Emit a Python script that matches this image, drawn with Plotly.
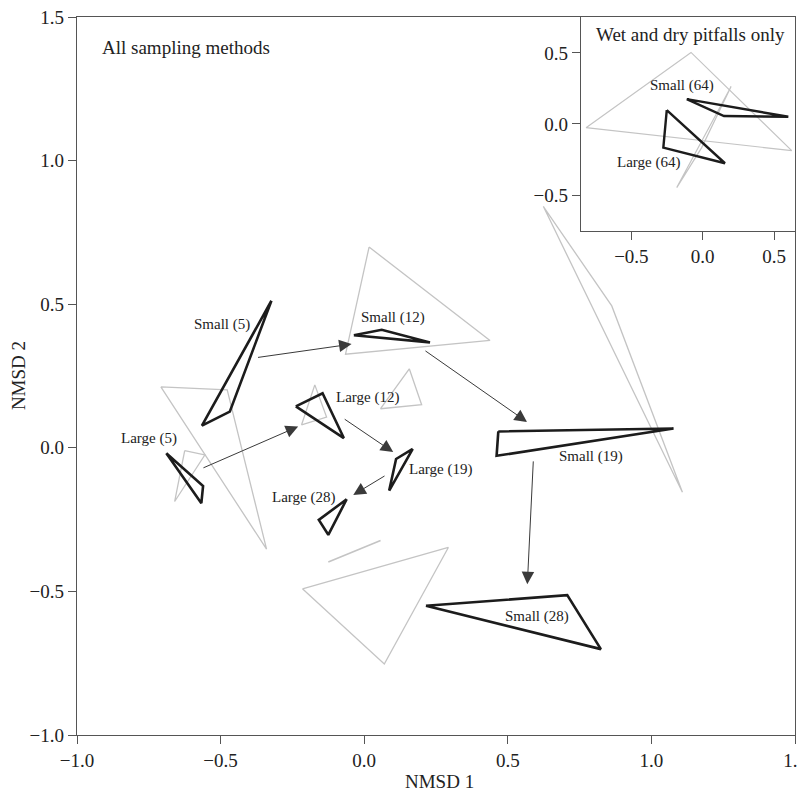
import plotly.graph_objects as go

# ---------------- Main panel data (NMDS coordinates) ----------------
# Black hulls: body-size class (sampling interval)
small5_x = [-0.323, -0.565, -0.468]
small5_y = [0.512, 0.077, 0.126]
large5_x = [-0.689, -0.561, -0.567]
large5_y = [-0.019, -0.133, -0.193]
small12_x = [-0.036, 0.061, 0.229]
small12_y = [0.392, 0.411, 0.367]
large12_x = [-0.238, -0.145, -0.071]
large12_y = [0.144, 0.190, 0.034]
large19_x = [0.169, 0.111, 0.087]
large19_y = [-0.004, -0.039, -0.149]
large28_x = [-0.061, -0.158, -0.125]
large28_y = [-0.179, -0.251, -0.303]
small19_x = [0.467, 1.077, 0.461]
small19_y = [0.057, 0.067, -0.028]
small28_x = [0.215, 0.707, 0.824]
small28_y = [-0.550, -0.513, -0.701]

# Grey hulls (other groups)
grey1_x = [-0.708, -0.477, -0.340]
grey1_y = [0.212, 0.202, -0.353]
grey2_x = [-0.625, -0.555, -0.660]
grey2_y = [-0.010, -0.025, -0.187]
grey3_x = [0.017, 0.438, -0.065]
grey3_y = [0.699, 0.374, 0.326]
grey4_x = [0.157, 0.200, 0.057]
grey4_y = [0.275, 0.150, 0.136]
grey5_x = [-0.172, -0.131, -0.218]
grey5_y = [0.219, 0.107, 0.080]
grey6_x = [-0.215, 0.293, 0.070]
grey6_y = [-0.491, -0.347, -0.753]
grey7_x = [-0.125, 0.057]
grey7_y = [-0.398, -0.323]
grey8_x = [0.624, 0.862, 1.108]
grey8_y = [0.840, 0.494, -0.155]

# Trajectory arrows: start x, start y, end x, end y
arrow_x0 = [-0.375, -0.565, 0.208, -0.073, 0.076, 0.589]
arrow_y0 = [0.314, -0.072, 0.341, 0.103, -0.095, -0.042]
arrow_x1 = [-0.044, -0.230, 0.567, 0.101, -0.038, 0.568]
arrow_y1 = [0.361, 0.074, 0.090, -0.015, -0.164, -0.475]

# Hull labels
label_text = ["Small (5)", "Large (5)", "Small (12)", "Large (12)", "Large (19)",
              "Large (28)", "Small (19)", "Small (28)"]
label_x = [-0.496, -0.750, 0.102, 0.013, 0.267, -0.211, 0.789, 0.602]
label_y = [0.428, 0.031, 0.454, 0.174, -0.077, -0.173, -0.031, -0.588]

# ---------------- Inset data (wet and dry pitfalls only) ----------------
small64_x = [-0.112, 0.149, 0.600]
small64_y = [0.175, 0.056, 0.051]
large64_x = [-0.252, -0.276, 0.156]
large64_y = [0.098, -0.166, -0.276]
igrey1_x = [-0.818, -0.082, 0.624]
igrey1_y = [-0.026, 0.503, -0.187]
igrey2_x = [0.199, -0.182, -0.008]
igrey2_y = [0.263, -0.447, -0.168]
inset_label_text = ["Small (64)", "Large (64)"]
inset_label_x = [-0.142, -0.378]
inset_label_y = [0.273, -0.271]

main_ticks = [-1.0, -0.5, 0.0, 0.5, 1.0, 1.5]
main_ticktext = ["\u22121.0", "\u22120.5", "0.0", "0.5", "1.0", "1.5"]
inset_ticks = [-0.5, 0.0, 0.5]
inset_ticktext = ["\u22120.5", "0.0", "0.5"]

FONT = "Liberation Serif"
BLACK = "#1c1c1c"
GREY = "#c4c4c4"


def closed(xs, ys):
    return list(xs) + [xs[0]], list(ys) + [ys[0]]


fig = go.Figure()


def add_hull(xs, ys, color, width, xa="x", ya="y", close=True):
    if close:
        xs, ys = closed(xs, ys)
    fig.add_trace(go.Scatter(x=xs, y=ys, mode="lines", xaxis=xa, yaxis=ya,
                             line=dict(color=color, width=width),
                             hoverinfo="skip", showlegend=False))


for gx, gy in [(grey1_x, grey1_y), (grey2_x, grey2_y), (grey3_x, grey3_y),
               (grey4_x, grey4_y), (grey5_x, grey5_y), (grey6_x, grey6_y),
               (grey8_x, grey8_y)]:
    add_hull(gx, gy, GREY, 1.3)
add_hull(grey7_x, grey7_y, GREY, 1.6, close=False)

for bx, by in [(small5_x, small5_y), (large5_x, large5_y), (small12_x, small12_y),
               (large12_x, large12_y), (large19_x, large19_y), (large28_x, large28_y),
               (small19_x, small19_y), (small28_x, small28_y)]:
    add_hull(bx, by, BLACK, 2.6)

add_hull(igrey1_x, igrey1_y, GREY, 1.2, "x2", "y2")
add_hull(igrey2_x, igrey2_y, GREY, 1.2, "x2", "y2")
add_hull(small64_x, small64_y, BLACK, 2.4, "x2", "y2")
add_hull(large64_x, large64_y, BLACK, 2.4, "x2", "y2")

annotations = []
for x0, y0, x1, y1 in zip(arrow_x0, arrow_y0, arrow_x1, arrow_y1):
    annotations.append(dict(x=x1, y=y1, ax=x0, ay=y0, xref="x", yref="y",
                            axref="x", ayref="y", text="", showarrow=True,
                            arrowhead=2, arrowsize=2.5, arrowwidth=1,
                            arrowcolor="#3a3a3a", standoff=0, startstandoff=0))
for t, x, y in zip(label_text, label_x, label_y):
    annotations.append(dict(x=x, y=y, xref="x", yref="y", text=t, showarrow=False,
                            font=dict(family=FONT, size=15, color="#222")))
for t, x, y in zip(inset_label_text, inset_label_x, inset_label_y):
    annotations.append(dict(x=x, y=y, xref="x2", yref="y2", text=t, showarrow=False,
                            font=dict(family=FONT, size=15, color="#222")))
annotations.append(dict(x=0.0316, y=0.9572, xref="paper", yref="paper",
                        xanchor="left", yanchor="middle", text="All sampling methods",
                        showarrow=False, font=dict(family=FONT, size=19, color="#222")))
annotations.append(dict(x=0.8549, y=0.9753, xref="paper", yref="paper",
                        xanchor="center", yanchor="middle", text="Wet and dry pitfalls only",
                        showarrow=False, font=dict(family=FONT, size=19, color="#222")))
# Axis titles
annotations.append(dict(x=0.505, y=-0.0641, xref="paper", yref="paper",
                        xanchor="center", yanchor="middle", text="NMSD 1",
                        showarrow=False, font=dict(family=FONT, size=19, color="#222")))
annotations.append(dict(x=-0.082, y=0.5, xref="paper", yref="paper",
                        xanchor="center", yanchor="middle", text="NMSD 2", textangle=-90,
                        showarrow=False, font=dict(family=FONT, size=19, color="#222")))

axis_common = dict(showline=True, mirror=True, linecolor="#555", linewidth=1.3,
                   ticks="outside", ticklen=8, tickwidth=1.2, tickcolor="#555",
                   showgrid=False, zeroline=False, automargin=False,
                   ticklabeloverflow="allow",
                   tickfont=dict(family=FONT, size=19, color="#222"))

# The page body adds an 8px offset; margins compensate for it.
fig.update_layout(
    width=806, height=784,
    margin=dict(l=69.3, r=19.4, t=9.3, b=57),
    paper_bgcolor="white", plot_bgcolor="white",
    font=dict(family=FONT, color="#222"),
    xaxis=dict(range=[-1.0, 1.5], tickvals=main_ticks, ticktext=main_ticktext,
               domain=[0, 1], **axis_common),
    yaxis=dict(range=[-1.0, 1.5], tickvals=main_ticks, ticktext=main_ticktext,
               domain=[0, 1], **axis_common),
    xaxis2=dict(range=[-0.853, 0.647], tickvals=inset_ticks, ticktext=inset_ticktext,
                domain=[0.702, 1.0], anchor="y2", **axis_common),
    yaxis2=dict(range=[-0.752, 0.752], tickvals=inset_ticks, ticktext=inset_ticktext,
                domain=[0.702, 1.0], anchor="x2", **axis_common),
    annotations=annotations,
)

fig.write_html("out.html")
